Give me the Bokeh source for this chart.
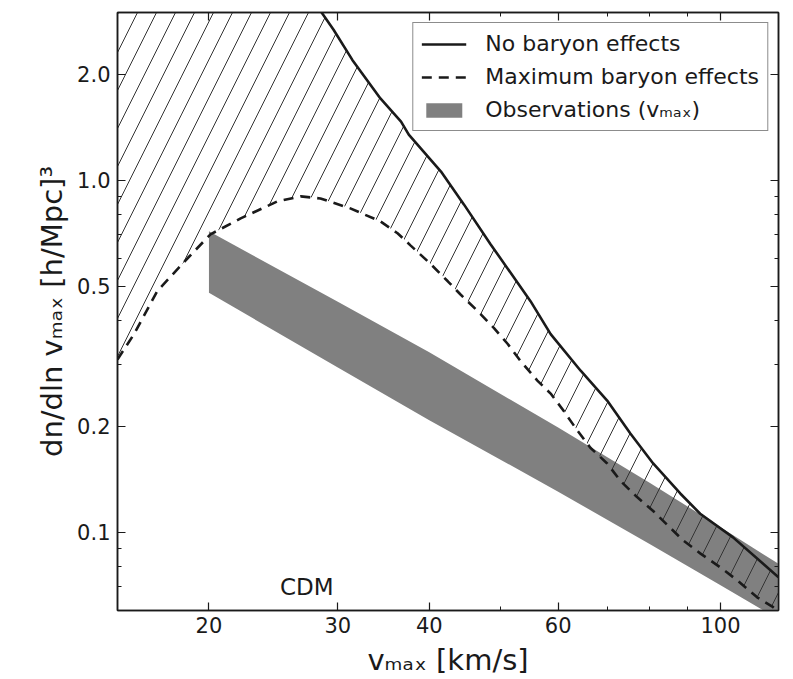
from bokeh.plotting import figure
from bokeh.models import (FixedTicker, Legend, LegendItem, Label, LogAxis,
                          CustomJSTickFormatter, Range1d)
from bokeh.embed import file_html
from bokeh.resources import INLINE

# ---------------- data ----------------
# "No baryon effects" (solid); first three points lie above the plotted range
vmax_no_baryon = [15.0, 20.0, 25.0, 28.6, 29.6, 31.4, 34.3, 36.6, 37.5, 41.5,
                  44.6, 48.5, 55.0, 58.6, 64.4, 70.0, 75.3, 80.9, 88.1, 93.8,
                  104.0, 120.0]
dn_no_baryon = [20.0, 9.0, 4.6, 2.97, 2.68, 2.20, 1.71, 1.47, 1.35, 1.06,
                0.855, 0.659, 0.454, 0.366, 0.288, 0.237, 0.191, 0.157, 0.129,
                0.113, 0.0968, 0.0746]

# "Maximum baryon effects" (dashed)
vmax_max_baryon = [15.0, 15.8, 17.0, 18.7, 20.1, 22.1, 24.8, 26.7, 28.4, 31.2,
                   34.3, 36.2, 37.7, 40.2, 42.4, 44.1, 46.6, 49.0, 51.2, 53.3,
                   56.2, 58.6, 61.0, 63.7, 66.4, 70.0, 73.0, 76.9, 80.9, 85.4,
                   88.9, 93.8, 99.9, 105.4, 112.2, 118.0, 120.0]
dn_max_baryon = [0.310, 0.366, 0.485, 0.601, 0.703, 0.780, 0.872, 0.901, 0.889,
                 0.833, 0.765, 0.708, 0.654, 0.578, 0.517, 0.475, 0.425, 0.381,
                 0.343, 0.307, 0.270, 0.248, 0.222, 0.195, 0.174, 0.157, 0.140,
                 0.126, 0.115, 0.103, 0.0949, 0.0872, 0.0796, 0.0731, 0.0654,
                 0.0613, 0.0595]

# Observations band (v_max)
vmax_obs = [20.0, 30.0, 40.0, 60.0, 80.0, 100.0, 120.0]
dn_obs_upper = [0.717, 0.452, 0.325, 0.1986, 0.1385, 0.1035, 0.0814]
dn_obs_lower = [0.4795, 0.294, 0.2084, 0.1305, 0.0927, 0.0708, 0.0567]

# ticks
x_major_ticks = [20, 30, 40, 60, 100]
x_tick_labels = ["20", "30", "40", "60", "100"]
x_minor_ticks = [50, 70, 80, 90]
y_major_ticks = [0.1, 0.2, 0.5, 1.0, 2.0]
y_tick_labels = ["0.1", "0.2", "0.5", "1.0", "2.0"]
y_minor_ticks = [0.07, 0.08, 0.09, 0.3, 0.4, 0.6, 0.7, 0.8, 0.9, 3.0]

legend_labels = ["No baryon effects", "Maximum baryon effects",
                 "Observations (v\u2098\u2090\u2093)"]
x_label = "v\u2098\u2090\u2093 [km/s]"
y_label = "dn/dln v\u2098\u2090\u2093 [h/Mpc]\u00b3"
model_label = "CDM"

# ---------------- figure ----------------
FONT = "DejaVu Sans"
INK = "#1a1a1a"

p = figure(width=793, height=679, x_axis_type="log", y_axis_type="log",
           x_range=Range1d(15, 120), y_range=Range1d(0.06, 3.0),
           output_backend="svg", toolbar_location=None,
           min_border_left=117, min_border_right=15,
           min_border_top=12, min_border_bottom=69)
p.xgrid.visible = False
p.ygrid.visible = False
p.outline_line_color = INK
p.outline_line_width = 1.5
p.background_fill_color = "white"
p.border_fill_color = "white"

label_js = """
const i = tick_values.findIndex(t => Math.abs(t - tick) <= 1e-9 * Math.max(1, Math.abs(t)));
return i >= 0 ? tick_texts[i] : "";
"""
x_fmt = CustomJSTickFormatter(args=dict(tick_values=x_major_ticks, tick_texts=x_tick_labels), code=label_js)
y_fmt = CustomJSTickFormatter(args=dict(tick_values=y_major_ticks, tick_texts=y_tick_labels), code=label_js)
blank_fmt = CustomJSTickFormatter(code="return '';")


def style_axis(ax, show_labels):
    ax.axis_line_color = INK
    ax.axis_line_width = 1.5
    ax.major_tick_in = 8
    ax.major_tick_out = 0
    ax.minor_tick_in = 4
    ax.minor_tick_out = 0
    ax.major_tick_line_color = INK
    ax.minor_tick_line_color = INK
    ax.major_tick_line_width = 1.2
    ax.minor_tick_line_width = 1.0
    ax.major_label_text_font = FONT
    ax.major_label_text_color = INK
    if show_labels:
        ax.major_label_text_font_size = "21px"
    else:
        ax.major_label_text_font_size = "0px"
        ax.major_label_standoff = 0


xa = p.xaxis[0]
xa.ticker = FixedTicker(ticks=x_major_ticks, minor_ticks=x_minor_ticks)
xa.formatter = x_fmt
style_axis(xa, True)
xa.major_label_standoff = 6
xa.axis_label = x_label
xa.axis_label_text_font = FONT
xa.axis_label_text_font_size = "29px"
xa.axis_label_text_font_style = "normal"
xa.axis_label_text_color = INK
xa.axis_label_standoff = 7

ya = p.yaxis[0]
ya.ticker = FixedTicker(ticks=y_major_ticks, minor_ticks=y_minor_ticks)
ya.formatter = y_fmt
style_axis(ya, True)
ya.major_label_standoff = 7
ya.axis_label = y_label
ya.axis_label_text_font = FONT
ya.axis_label_text_font_size = "29px"
ya.axis_label_text_font_style = "normal"
ya.axis_label_text_color = INK
ya.axis_label_standoff = 5

top_ax = LogAxis(ticker=FixedTicker(ticks=x_major_ticks, minor_ticks=x_minor_ticks),
                 formatter=blank_fmt)
style_axis(top_ax, False)
p.add_layout(top_ax, "above")
right_ax = LogAxis(ticker=FixedTicker(ticks=y_major_ticks, minor_ticks=y_minor_ticks),
                   formatter=blank_fmt)
style_axis(right_ax, False)
p.add_layout(right_ax, "right")

# ---------------- glyphs ----------------
band = p.varea(x=vmax_obs, y1=dn_obs_lower, y2=dn_obs_upper,
               fill_color="#808080", fill_alpha=1.0)

hatch_x = vmax_max_baryon + vmax_no_baryon[::-1]
hatch_y = dn_max_baryon + dn_no_baryon[::-1]
p.patch(x=hatch_x, y=hatch_y, fill_color=None, line_color=None,
        hatch_pattern="/", hatch_color="#333333", hatch_weight=1.0,
        hatch_scale=38, hatch_alpha=1.0)

solid = p.line(vmax_no_baryon, dn_no_baryon, line_color=INK, line_width=2.6)
dashed = p.line(vmax_max_baryon, dn_max_baryon, line_color=INK, line_width=2.6,
                line_dash="10 7")

p.add_layout(Label(x=25, y=0.07, text=model_label, text_font=FONT,
                   text_font_size="23px", text_color=INK,
                   text_align="left", text_baseline="alphabetic"))

legend = Legend(items=[LegendItem(label=legend_labels[0], renderers=[solid]),
                       LegendItem(label=legend_labels[1], renderers=[dashed]),
                       LegendItem(label=legend_labels[2], renderers=[band])],
                location="top_right", margin=10, padding=8, spacing=8,
                glyph_width=45, glyph_height=18, label_height=24,
                label_standoff=19, label_text_font=FONT,
                label_text_font_size="22px", label_text_color=INK,
                border_line_color=INK, border_line_width=1.3,
                background_fill_color="white", background_fill_alpha=1.0)
p.add_layout(legend)

open("out.html", "w").write(file_html(p, INLINE))
